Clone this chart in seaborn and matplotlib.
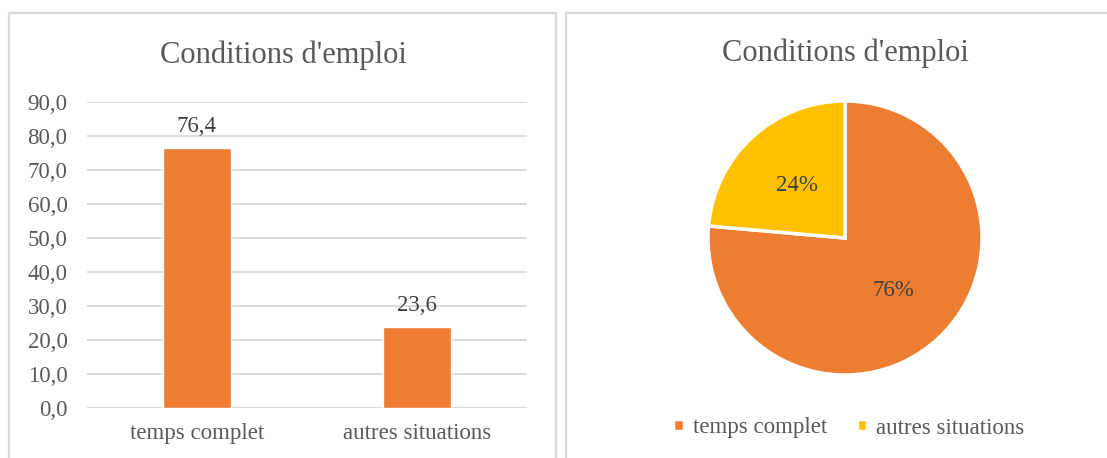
import matplotlib
matplotlib.use("Agg")
import matplotlib.pyplot as plt
import seaborn as sns
from matplotlib.patches import Rectangle

# data
categories = ["temps complet", "autres situations"]
values = [76.4, 23.6]
y_ticks = [0, 10, 20, 30, 40, 50, 60, 70, 80, 90]
title = "Conditions d'emploi"

orange = "#ED7D31"
yellow = "#FFC000"
text_grey = "#595959"
grid_grey = "#D9D9D9"

sns.set_style("white")
plt.rcParams["font.family"] = ["Liberation Serif", "DejaVu Serif"]

fig = plt.figure(figsize=(11.07, 4.58), dpi=100)

# panel borders
fig.patches.append(Rectangle((9 / 1107, -0.1), 547 / 1107, 1.1 - 13 / 458,
                             transform=fig.transFigure, fill=False,
                             edgecolor=grid_grey, linewidth=1.6))
fig.patches.append(Rectangle((566 / 1107, -0.1), 0.6, 1.1 - 13 / 458,
                             transform=fig.transFigure, fill=False,
                             edgecolor=grid_grey, linewidth=1.6))

# bar chart
ax1 = fig.add_axes([87 / 1107, (458 - 407.7) / 458, 440 / 1107, 306 / 458])
sns.barplot(x=categories, y=values, color=orange, saturation=1,
            width=0.31, ax=ax1)
ax1.set_ylim(0, 90)
ax1.set_xlim(-0.5, 1.5)
ax1.set_yticks(y_ticks)
ax1.set_yticklabels([f"{t:.1f}".replace(".", ",") for t in y_ticks])
ax1.yaxis.grid(True, color=grid_grey, linewidth=1.3)
ax1.set_axisbelow(True)
sns.despine(ax=ax1, left=True, top=True, right=True, bottom=True)
ax1.axhline(0, color=grid_grey, linewidth=1.3, zorder=0)
ax1.tick_params(axis="y", length=0, pad=14, labelsize=16.5, labelcolor=text_grey)
ax1.tick_params(axis="x", length=0, pad=11, labelsize=16.5, labelcolor=text_grey)
ax1.set_xlabel("")
ax1.set_ylabel("")
ax1.bar_label(ax1.containers[0],
              labels=[f"{v:.1f}".replace(".", ",") for v in values],
              padding=8, fontsize=16.5, color="#404040")
fig.text(283 / 1107, 1 - 55 / 458, title, ha="center", va="center",
         fontsize=22, color=text_grey)

# pie chart
ax2 = fig.add_axes([(845 - 137) / 1107, (458 - 375) / 458, 274 / 1107, 274 / 458])
wedges, _, autotexts = ax2.pie(values, colors=[orange, yellow], startangle=90,
                               counterclock=False, autopct="%1.0f%%",
                               pctdistance=0.52,
                               wedgeprops=dict(edgecolor="white", linewidth=2.5),
                               textprops=dict(fontsize=16.5, color="#404040"))
ax2.set_xlim(-1.0, 1.0)
ax2.set_ylim(-1.0, 1.0)
fig.text(845 / 1107, 1 - 53 / 458, title, ha="center", va="center",
         fontsize=22, color=text_grey)
fig.legend(wedges, categories, loc="center",
           bbox_to_anchor=(849 / 1107, 1 - 428 / 458), ncol=2, frameon=False,
           fontsize=16.5, labelcolor=text_grey, handlelength=0.45,
           handleheight=0.45, handletextpad=0.4, columnspacing=1.3)

fig.savefig("out.png", dpi=100)
